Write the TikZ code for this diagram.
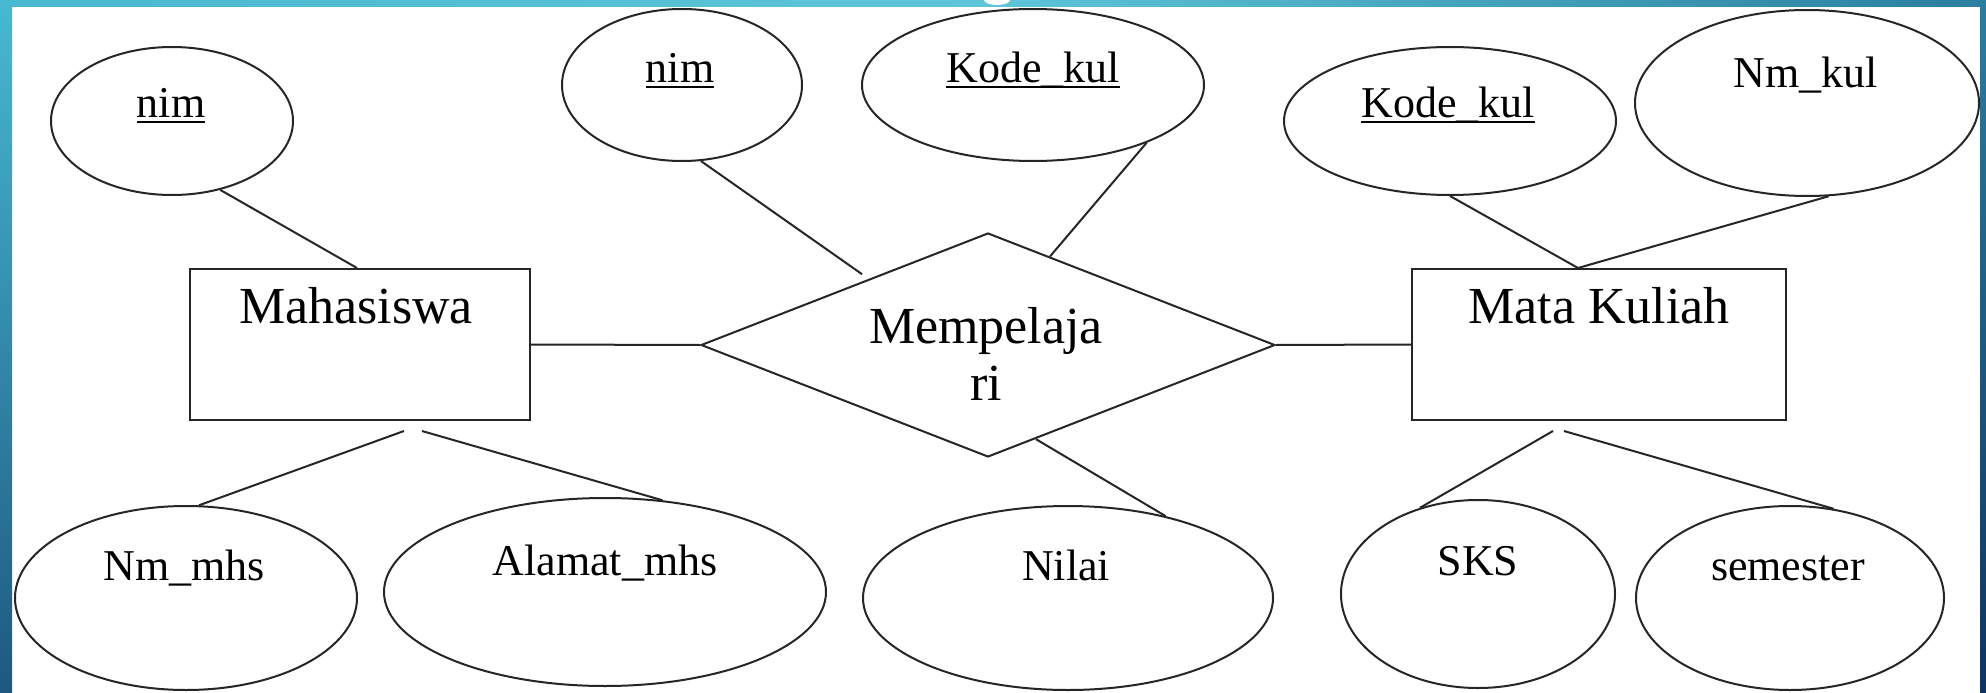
\documentclass[tikz,border=0pt]{standalone}
\usepackage{fontspec}
\setmainfont{Liberation Serif}
\usetikzlibrary{shapes.geometric}

\definecolor{frameA}{HTML}{48B9D2}
\definecolor{frameB}{HTML}{5EC5D8}
\definecolor{frameC}{HTML}{2A7EA0}
\definecolor{frameD}{HTML}{1E5880}
\definecolor{frameE}{HTML}{0E3360}
\definecolor{ink}{HTML}{262626}

% key attribute: text with a solid underline bar
\newcommand{\keyline}[1]{\setbox0\hbox{#1}\rlap{\vrule height -4.5pt depth 6.5pt width \wd0}\box0}

\tikzset{
  link/.style={draw=ink, line width=2pt},
  attr/.style={ellipse, draw=ink, line width=2pt, inner sep=0pt},
  entity/.style={rectangle, draw=ink, line width=2pt, inner sep=0pt},
  relation/.style={diamond, draw=ink, line width=2pt, inner sep=0pt},
  bigtxt/.style={anchor=base, inner sep=0pt, font=\fontsize{52}{57}\selectfont},
  smalltxt/.style={anchor=base, inner sep=0pt, font=\fontsize{44}{50}\selectfont},
}

\begin{document}
\begin{tikzpicture}[x=1pt, y=-1pt]
  \useasboundingbox (0,0) rectangle (1986,693);
  \fill[white] (0,0) rectangle (1986,693);

  % slide frame
  \shade[left color=frameA, right color=frameC, middle color=frameB] (0,0) rectangle (1986,7);
  \shade[top color=frameA, bottom color=frameD] (0,0) rectangle (12,693);
  \shade[top color=frameC, bottom color=frameE] (1980,0) rectangle (1986,693);
  \fill[white] (997,0) ellipse [x radius=13, y radius=5];

  % entities and relationship
  \node[entity, minimum width=340pt, minimum height=151pt] (mhs) at (360,344.5) {};
  \node[entity, minimum width=374pt, minimum height=151pt] (mk) at (1599,344.5) {};
  \node[relation, aspect=2.56, minimum width=574pt, minimum height=224pt] (dia) at (988,345) {};

  % attributes
  \node[attr, minimum width=242pt, minimum height=148pt] (eNimA) at (172,121) {};
  \node[attr, minimum width=240pt, minimum height=152pt] (eNimB) at (682,85) {};
  \node[attr, minimum width=342pt, minimum height=152pt] (eKodeB) at (1033,85) {};
  \node[attr, minimum width=332pt, minimum height=148pt] (eKodeC) at (1450,121) {};
  \node[attr, minimum width=344pt, minimum height=186pt] (eNmKul) at (1807,103) {};
  \node[attr, minimum width=342pt, minimum height=184pt] (eNmMhs) at (186,598) {};
  \node[attr, minimum width=442pt, minimum height=188pt] (eAlamat) at (605,592) {};
  \node[attr, minimum width=410pt, minimum height=184pt] (eNilai) at (1068,598) {};
  \node[attr, minimum width=274pt, minimum height=188pt] (eSKS) at (1478,594) {};
  \node[attr, minimum width=308pt, minimum height=184pt] (eSem) at (1790,598) {};

  % labels
  \node[bigtxt] (tMhs) at (356,323) {Mahasiswa};
  \node[bigtxt] (tMk) at (1599,323) {Mata Kuliah};
  \node[bigtxt] (tRel1) at (986,343) {Mempelaja};
  \node[bigtxt] (tRel2) at (986,400) {ri};
  \node[smalltxt] (tNimA) at (171,117) {\keyline{nim}};
  \node[smalltxt] (tNimB) at (680,82) {\keyline{nim}};
  \node[smalltxt] (tKodeB) at (1033,82) {\keyline{Kode\_kul}};
  \node[smalltxt] (tKodeC) at (1448,117) {\keyline{Kode\_kul}};
  \node[smalltxt] (tNmKul) at (1806,87) {Nm\_kul};
  \node[smalltxt] (tNmMhs) at (184,580) {Nm\_mhs};
  \node[smalltxt] (tAlamat) at (605,575) {Alamat\_mhs};
  \node[smalltxt] (tNilai) at (1066,580) {Nilai};
  \node[smalltxt] (tSKS) at (1478,575) {SKS};
  \node[smalltxt] (tSem) at (1788,580) {semester};

  % connectors
  \draw[link] (eNimA.-55) -- ([xshift=-3pt]mhs.north);
  \draw[link, shorten >=8pt] (eNimB.-76) -- (dia.151);
  \draw[link] (eKodeB.-27) -- (dia.55);
  \draw[link] (mhs.east) -- (dia.west);
  \draw[link] (dia.east) -- (mk.west);
  \draw[link] (eKodeC.south) -- ([xshift=-21pt]mk.north);
  \draw[link] (eNmKul.-77) -- ([xshift=-21pt]mk.north);
  \draw[link] ([shift={(44,10)}]mhs.south) -- (eNmMhs.82);
  \draw[link] ([shift={(62,10)}]mhs.south) -- (eAlamat.58);
  \draw[link] (dia.-63) -- (eNilai.40);
  \draw[link] ([shift={(-46,10)}]mk.south) -- (eSKS.124);
  \draw[link] ([shift={(-35,10)}]mk.south) -- (eSem.64);
\end{tikzpicture}
\end{document}
